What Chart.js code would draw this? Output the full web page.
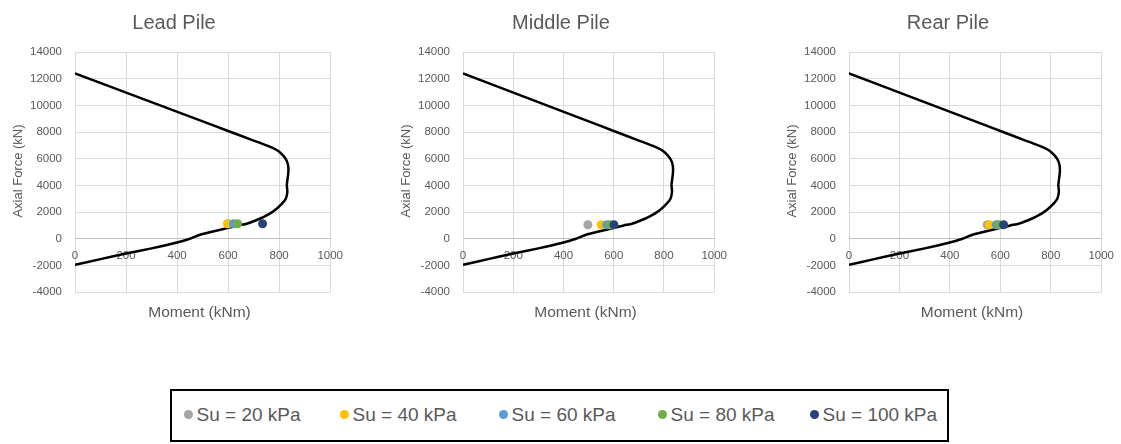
<!DOCTYPE html>
<html>
<head>
<meta charset="utf-8">
<script src="https://cdn.jsdelivr.net/npm/chart.js@4.4.1/dist/chart.umd.min.js"></script>
<style>
body { margin: 0; background: #fff; font-family: "Liberation Sans", Arial, sans-serif; color: #595959; }
#wrap { position: relative; width: 1121px; height: 444px; overflow: hidden; }
#wrap canvas { position: absolute; top: 0; }
.ttl { position: absolute; top: 10px; width: 240px; margin-left: -120px; text-align: center; font-size: 20px; line-height: 24px; }
.xt { position: absolute; top: 303px; width: 200px; margin-left: -100px; text-align: center; font-size: 15.5px; line-height: 18px; }
.yt { position: absolute; width: 160px; height: 16px; margin-left: -80px; margin-top: -8px; text-align: center; font-size: 13px; line-height: 16px; transform: rotate(-90deg); }
#legend { position: absolute; left: 170px; top: 389px; width: 779px; height: 53px; border: 2px solid #000; box-sizing: border-box; }
.item { position: absolute; top: 13px; font-size: 19px; line-height: 22px; white-space: nowrap; }
.dot { display: inline-block; width: 9px; height: 9px; border-radius: 50%; margin-right: 4px; vertical-align: 2px; }
</style>
</head>
<body>
<div id="wrap"></div>
<script>
// interaction curve (same for all three piles)
var curveMoment = [0, 250, 490, 600, 700, 740, 770, 795, 815, 828, 835, 836, 833, 830, 831, 832, 826, 812, 790, 765, 738, 705, 673, 640, 608, 540, 490, 450, 400, 300, 200, 100, 0];
var curveAxial = [12400, 10600, 8870, 8080, 7360, 7080, 6850, 6600, 6250, 5900, 5500, 5000, 4500, 4050, 3800, 3500, 3000, 2650, 2250, 1900, 1620, 1350, 1125, 1000, 850, 540, 300, 0, -280, -720, -1110, -1530, -1950];

// Su cases
var seriesNames = ["Su = 20 kPa", "Su = 40 kPa", "Su = 60 kPa", "Su = 80 kPa", "Su = 100 kPa"];
var seriesColors = ["#a5a5a5", "#ffc000", "#5b9bd5", "#70ad47", "#264478"];

var pileTitles = ["Lead Pile", "Middle Pile", "Rear Pile"];
var leadMoment = [600, 597, 621, 637, 735];
var leadAxial = [1125, 1125, 1125, 1125, 1125];
var middleMoment = [497, 550, 572, 585, 601];
var middleAxial = [1050, 1050, 1050, 1050, 1050];
var rearMoment = [548, 557, 584, 594, 613];
var rearAxial = [1050, 1050, 1050, 1050, 1050];

var xTicks = [0, 200, 400, 600, 800, 1000];
var yTicks = [-4000, -2000, 0, 2000, 4000, 6000, 8000, 10000, 12000, 14000];

var pileMoments = [leadMoment, middleMoment, rearMoment];
var pileAxials = [leadAxial, middleAxial, rearAxial];

// plot area placement of each chart
var plotLeft = [75, 463, 849];
var plotRight = [330, 714, 1101];
var canvasH = 312, axisW = 50, padR = 20;

var wrap = document.getElementById("wrap");
var tickFont = { family: "'Liberation Sans', Arial, sans-serif", size: 11.5 };

for (var p = 0; p < 3; p++) {
    var L = plotLeft[p], R = plotRight[p];
    var cv = document.createElement("canvas");
    cv.width = (R - L) + axisW + padR + 3;
    cv.height = canvasH;
    cv.style.left = (L - axisW) + "px";
    cv.style.width = cv.width + "px";
    cv.style.height = canvasH + "px";
    wrap.appendChild(cv);

    var datasets = [];
    for (var s = 0; s < seriesNames.length; s++) {
        var pts = [];
        for (var k = 0; k < pileMoments[p].length; k++) {
            if (k === s) pts.push({ x: pileMoments[p][k], y: pileAxials[p][k] });
        }
        datasets.push({
            label: seriesNames[s],
            data: pts,
            backgroundColor: seriesColors[s],
            borderWidth: 0,
            pointRadius: 4.5,
            order: 5 - s
        });
    }
    var curve = [];
    for (var i = 0; i < curveMoment.length; i++) curve.push({ x: curveMoment[i], y: curveAxial[i] });
    datasets.push({
        label: "Capacity",
        data: curve,
        showLine: true,
        borderColor: "#000",
        borderWidth: 2.5,
        pointRadius: 0,
        tension: 0.2,
        order: 10
    });

    new Chart(cv, {
        type: "scatter",
        data: { datasets: datasets },
        options: {
            responsive: false,
            animation: false,
            devicePixelRatio: 1,
            layout: { padding: { left: 0, right: padR, top: 52, bottom: 8 } },
            plugins: { legend: { display: false }, tooltip: { enabled: false } },
            scales: {
                x: {
                    type: "linear",
                    position: { y: 0 },
                    min: 0, max: 1000,
                    afterBuildTicks: function (sc) { sc.ticks = xTicks.map(function (v) { return { value: v }; }); },
                    grid: { color: "#d9d9d9", drawTicks: false },
                    border: { color: "#bfbfbf", width: 1 },
                    ticks: { color: "#595959", font: tickFont, padding: 10, maxRotation: 0,
                        callback: function (v) { return String(v); } }
                },
                y: {
                    type: "linear",
                    position: "left",
                    min: -4000, max: 14000,
                    afterBuildTicks: function (sc) { sc.ticks = yTicks.map(function (v) { return { value: v }; }); },
                    afterFit: function (sc) { sc.width = axisW; },
                    grid: { color: "#d9d9d9", drawTicks: false },
                    border: { display: false },
                    ticks: { color: "#595959", font: tickFont, padding: 13,
                        callback: function (v) { return String(v); } }
                }
            }
        }
    });

    var t = document.createElement("div");
    t.className = "ttl";
    t.textContent = pileTitles[p];
    t.style.left = [174, 561, 948][p] + "px";
    wrap.appendChild(t);

    var xt = document.createElement("div");
    xt.className = "xt";
    xt.textContent = "Moment (kNm)";
    xt.style.left = ((L + R) / 2 - 3) + "px";
    wrap.appendChild(xt);

    var yt = document.createElement("div");
    yt.className = "yt";
    yt.textContent = "Axial Force (kN)";
    yt.style.left = (L - 57) + "px";
    yt.style.top = "171px";
    wrap.appendChild(yt);
}

// legend
var legend = document.createElement("div");
legend.id = "legend";
wrap.appendChild(legend);
var dotCenters = [188, 344, 503, 662, 814];
for (var s = 0; s < seriesNames.length; s++) {
    var it = document.createElement("div");
    it.className = "item";
    it.style.left = (dotCenters[s] - 4.5 - 172) + "px";
    it.innerHTML = '<span class="dot" style="background:' + seriesColors[s] + '"></span>' + seriesNames[s];
    legend.appendChild(it);
}
</script>
</body>
</html>
